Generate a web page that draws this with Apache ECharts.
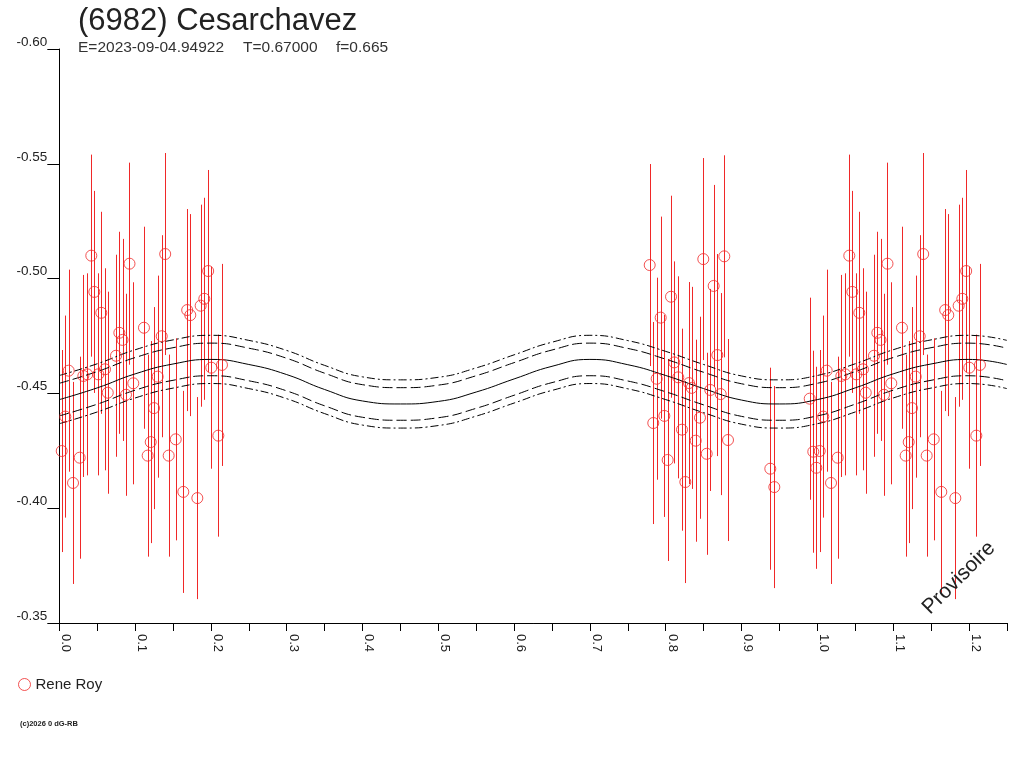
<!DOCTYPE html>
<html>
<head>
<meta charset="utf-8">
<script src="https://cdn.jsdelivr.net/npm/echarts@6.0.0/dist/echarts.min.js"></script>
<style>
  html, body { margin: 0; padding: 0; background: #fff; }
  #chart { width: 1024px; height: 768px; }
</style>
</head>
<body>
<div id="chart"></div>
<script>
// observations, phase folded (Rene Roy)
const obsPhase = [
    0.0032, 0.0079, 0.0124, 0.0181, 0.0269, 0.0317, 0.0369, 0.0422, 0.0462, 0.0515,
    0.0554, 0.0603, 0.0639, 0.0748, 0.0792, 0.0834, 0.0880, 0.0926, 0.0976, 0.1117,
    0.1166, 0.1206, 0.1249, 0.1298, 0.1351, 0.1397, 0.1443, 0.1536, 0.1636, 0.1687,
    0.1728, 0.1821, 0.1865, 0.1913, 0.1964, 0.2005, 0.2098, 0.2146,
    0.7789, 0.7836, 0.7881, 0.7934, 0.7982, 0.8026, 0.8070, 0.8113, 0.8166, 0.8215,
    0.8259, 0.8307, 0.8343, 0.8396, 0.8452, 0.8496, 0.8541, 0.8588, 0.8633, 0.8681,
    0.8726, 0.8773, 0.8822, 0.9380, 0.9433, 0.9900, 0.9947, 0.9987
];
const obsMag = [
    -0.4249, -0.4399, -0.4599, -0.4110, -0.4220, -0.4576, -0.4583, -0.5100, -0.4942, -0.4583,
    -0.4851, -0.4605, -0.4503, -0.4664, -0.4764, -0.4733, -0.4494, -0.5065, -0.4544, -0.4786,
    -0.4229, -0.4288, -0.4436, -0.4573, -0.4749, -0.5107, -0.4229, -0.4300, -0.4071, -0.4863,
    -0.4841, -0.4044, -0.4882, -0.4912, -0.5033, -0.4612, -0.4316, -0.4624,
    -0.5059, -0.4371, -0.4564, -0.4830, -0.4402, -0.4210, -0.4921, -0.4635, -0.4570, -0.4342,
    -0.4114, -0.4545, -0.4524, -0.4294, -0.4394, -0.5085, -0.4237, -0.4515, -0.4968, -0.4667,
    -0.4497, -0.5097, -0.4297, -0.4172, -0.4092, -0.4477, -0.4246, -0.4176
];
const magErr = 0.044;

// fitted light curve
const fitPhase = [0.00, 0.05, 0.10, 0.15, 0.20, 0.25, 0.30, 0.35, 0.40, 0.45, 0.50, 0.55, 0.60,
                  0.65, 0.70, 0.75, 0.80, 0.85, 0.90, 0.95, 1.00, 1.05, 1.10, 1.15, 1.20, 1.25];
const fitMag = [-0.4473, -0.4524, -0.4585, -0.4628, -0.4648, -0.4626, -0.4582, -0.4517, -0.4467,
                -0.4454, -0.4465, -0.4506, -0.4563, -0.4618, -0.4648, -0.4625, -0.4578, -0.4521,
                -0.4471, -0.4454, -0.4473, -0.4524, -0.4585, -0.4628, -0.4648, -0.4626];
const innerBand = 0.0071;
const outerBand = 0.0105;

const titleText = '(6982) Cesarchavez';
const subParts = ['E=2023-09-04.94922', 'T=0.67000', 'f=0.665'];
const observer = 'Rene Roy';

const RED = '#f02828';
const FONT = '"Liberation Sans", Arial, sans-serif';
const PHASE_MAX = 1.25;

// each point is plotted at its phase and again one cycle later if it still fits
const pts = [];
obsPhase.forEach((p, i) => {
    pts.push([p, obsMag[i]]);
    if (p + 1 <= PHASE_MAX) pts.push([p + 1, obsMag[i]]);
});
const errData = pts.map(d => [d[0], d[1] - magErr, d[1] + magErr]);

function curve(offset) {
    return fitPhase.map((p, i) => [p, fitMag[i] + offset]);
}
function band(offset, dash) {
    return {
        type: 'line', data: curve(offset), smooth: true, showSymbol: false, silent: true,
        lineStyle: { color: '#000', width: 1, type: dash }, z: 3
    };
}

const chart = echarts.init(document.getElementById('chart'));
chart.setOption({
    animation: false,
    backgroundColor: '#fff',
    textStyle: { fontFamily: FONT },
    grid: { left: 59.3, right: 17.2, top: 49, bottom: 145 },
    legend: {
        data: [observer], left: 13, top: 672, itemWidth: 12, itemHeight: 12,
        itemStyle: { color: 'rgba(255,255,255,0)', borderColor: RED, borderWidth: 1 },
        textStyle: { fontSize: 15, color: '#222', fontFamily: FONT }
    },
    xAxis: {
        type: 'value', min: 0, max: PHASE_MAX, interval: 0.1,
        axisLine: { lineStyle: { color: '#000', width: 1 } },
        axisTick: { show: true, length: 8, lineStyle: { color: '#000' } },
        minorTick: { show: true, splitNumber: 2, length: 8, lineStyle: { color: '#000' } },
        splitLine: { show: false },
        axisLabel: {
            rotate: -90, margin: 11, fontSize: 13, color: '#222', verticalAlign: 'bottom',
            showMaxLabel: false, formatter: v => v.toFixed(1)
        }
    },
    yAxis: {
        type: 'value', inverse: true, min: -0.60, max: -0.35, interval: 0.05,
        axisLine: { show: true, lineStyle: { color: '#000', width: 1 } },
        axisTick: { show: true, length: 12, lineStyle: { color: '#000' } },
        splitLine: { show: false },
        axisLabel: {
            margin: 12, fontSize: 13.5, color: '#222', verticalAlign: 'bottom',
            formatter: v => v.toFixed(2)
        }
    },
    series: [
        {
            type: 'custom', data: errData, silent: true, z: 2,
            renderItem: (params, api) => {
                const a = api.coord([api.value(0), api.value(1)]);
                const b = api.coord([api.value(0), api.value(2)]);
                const x = Math.round(a[0]) + 0.5;
                return {
                    type: 'line',
                    shape: { x1: x, y1: a[1], x2: x, y2: b[1] },
                    style: { stroke: RED, lineWidth: 1 }
                };
            }
        },
        band(-outerBand, [8, 3, 2, 3]),
        band(-innerBand, [10, 4]),
        band(0, 'solid'),
        band(innerBand, [10, 4]),
        band(outerBand, [8, 3, 2, 3]),
        {
            name: observer, type: 'scatter', data: pts, symbol: 'circle', symbolSize: 11,
            itemStyle: { color: 'rgba(255,255,255,0)', borderColor: RED, borderWidth: 1 }, z: 4
        }
    ],
    graphic: [
        { type: 'text', x: 78, y: 6, style: { text: titleText, font: '31px ' + FONT, fill: '#222' } },
        { type: 'text', x: 78, y: 40, style: { text: subParts[0], font: '15.5px ' + FONT, fill: '#333' } },
        { type: 'text', x: 243, y: 40, style: { text: subParts[1], font: '15.5px ' + FONT, fill: '#333' } },
        { type: 'text', x: 336, y: 40, style: { text: subParts[2], font: '15.5px ' + FONT, fill: '#333' } },
        { type: 'text', x: 20, y: 720, style: { text: '(c)2026 0 dG-RB', font: 'bold 7.5px ' + FONT, fill: '#222' } },
        {
            type: 'text', x: 959, y: 578, rotation: Math.PI / 4, z: 10,
            style: {
                text: 'Provisoire', font: '21px ' + FONT, fill: '#222',
                align: 'center', verticalAlign: 'middle', textAlign: 'center', textVerticalAlign: 'middle'
            }
        }
    ]
});
</script>
</body>
</html>
